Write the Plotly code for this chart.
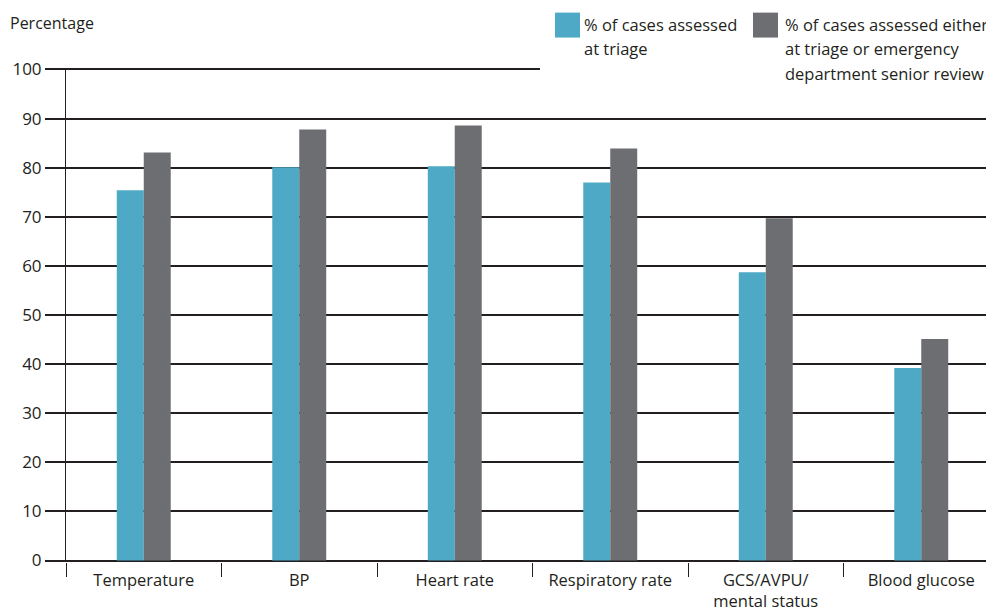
import plotly.graph_objects as go

categories = ["Temperature", "BP", "Heart rate", "Respiratory rate",
              "GCS/AVPU/<br>mental status", "Blood glucose"]
triage = [75.4, 80.1, 80.3, 77.0, 58.7, 39.2]
triage_or_senior = [83.1, 87.8, 88.6, 83.9, 69.7, 45.1]
series_names = ["% of cases assessed at triage",
                "% of cases assessed either at triage or emergency department senior review"]
y_ticks = [0, 10, 20, 30, 40, 50, 60, 70, 80, 90, 100]

TEAL = "#4DA9C5"
GRAY = "#6D6E72"
INK = "#231F20"
FONT = "Open Sans"

OFF = 8  # page body margin
W, H = 994, 611 - OFF
ML, MR, MT, MB = 66 - OFF, 0, 67.5 - OFF, 48.5
PW, PH = W - ML - MR, H - MT - MB
CAT_W = 155.5

def px(x):
    return (x - OFF - ML) / PW

def py(y):
    return (H - MB - (y - OFF)) / PH

fig = go.Figure()
fig.add_trace(go.Bar(x=categories, y=triage, name=series_names[0],
                     marker=dict(color=TEAL, line=dict(width=0)), showlegend=False))
fig.add_trace(go.Bar(x=categories, y=triage_or_senior, name=series_names[1],
                     marker=dict(color=GRAY, line=dict(width=0)), showlegend=False))

fig.update_layout(
    width=W, height=H,
    margin=dict(l=ML, r=MR, t=MT, b=MB, pad=0),
    paper_bgcolor="white", plot_bgcolor="white",
    barmode="group", bargap=0.653, bargroupgap=0,
    font=dict(family=FONT, size=16, color=INK),
    xaxis=dict(type="category", range=[-0.5, -0.5 + PW / CAT_W], tickson="boundaries",
               ticks="outside", ticklen=14, tickwidth=1, tickcolor=INK,
               ticklabelstandoff=6,
               showgrid=False, showline=False, zeroline=False,
               tickfont=dict(family=FONT, size=16.5, color=INK)),
    yaxis=dict(range=[-0.3, 100.3], tickvals=y_ticks, ticks="outside",
               ticklen=20, tickwidth=1.5, tickcolor=INK,
               showgrid=True, gridcolor=INK, gridwidth=1.5,
               zeroline=False, showline=True, linecolor=INK, linewidth=1,
               tickfont=dict(family=FONT, size=17, color=INK)),
)

# cover the top gridline behind the legend
fig.add_shape(type="rect", xref="paper", yref="y", x0=px(540), x1=1.01, y0=99, y1=101.5,
              fillcolor="white", line=dict(width=0), layer="above")

# legend swatches
fig.add_shape(type="rect", xref="paper", yref="paper", x0=px(555), x1=px(580),
              y0=py(37), y1=py(12), fillcolor=TEAL, line=dict(width=0))
fig.add_shape(type="rect", xref="paper", yref="paper", x0=px(753), x1=px(778),
              y0=py(37), y1=py(12), fillcolor=GRAY, line=dict(width=0))

legend_lines = [
    (582, 24, "% of cases assessed"),
    (582, 48, "at triage"),
    (783, 24, "% of cases assessed either"),
    (783, 48, "at triage or emergency"),
    (783, 73, "department senior review"),
]
for x, y, t in legend_lines:
    fig.add_annotation(text=t, xref="paper", yref="paper", x=px(x), y=py(y),
                       xanchor="left", yanchor="middle", showarrow=False,
                       font=dict(family=FONT, size=16.5, color=INK))

fig.add_annotation(text="Percentage", xref="paper", yref="paper", x=px(8), y=py(22),
                   xanchor="left", yanchor="middle", showarrow=False,
                   font=dict(family=FONT, size=16, color=INK))

fig.write_html("out.html")
